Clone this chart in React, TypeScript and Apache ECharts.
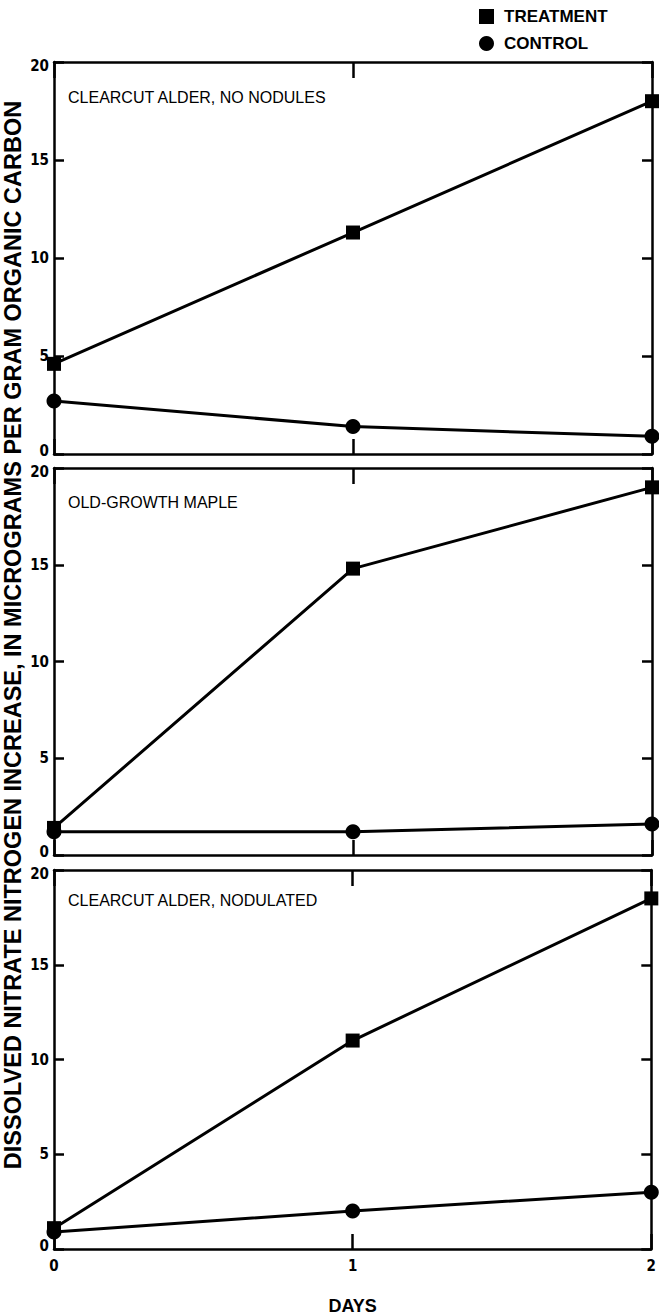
import React, { useEffect, useRef } from "react";
import * as echarts from "echarts";

const days = [0, 1, 2];
const xTicks = ["0", "1", "2"];
const panelTitles = ["CLEARCUT ALDER, NO NODULES", "OLD-GROWTH MAPLE", "CLEARCUT ALDER, NODULATED"];
const treatmentNoNodules = [4.6, 11.3, 18.0];
const controlNoNodules = [2.7, 1.4, 0.9];
const treatmentMaple = [1.4, 14.8, 19.0];
const controlMaple = [1.2, 1.2, 1.6];
const treatmentNodulated = [1.1, 11.0, 18.5];
const controlNodulated = [0.9, 2.0, 3.0];
const treatmentSets = [treatmentNoNodules, treatmentMaple, treatmentNodulated];
const controlSets = [controlNoNodules, controlMaple, controlNodulated];

const grids = [
  { top: 62, height: 392, titleOffset: 35 },
  { top: 468, height: 387, titleOffset: 34 },
  { top: 870, height: 387, titleOffset: 30 },
];

const narrow = "'DejaVu Sans Condensed', sans-serif";
const sans = "'Liberation Sans', Arial, sans-serif";
const labelFont = { fontFamily: narrow, fontWeight: "bold" as const, fontSize: 15, color: "#000" };

export default function App() {
  const ref = useRef<HTMLDivElement>(null);
  useEffect(() => {
    const chart = echarts.init(ref.current!, null, { renderer: "svg" });
    const line = { lineStyle: { color: "#000", width: 2.5 } };
    const xAxis: any[] = [];
    const yAxis: any[] = [];
    const series: any[] = [];
    grids.forEach((g, i) => {
      xAxis.push({
        type: "value", gridIndex: i, min: 0, max: 2, interval: 1, position: "bottom",
        axisLine: { show: true, onZero: false, ...line },
        axisTick: { show: true, inside: true, length: 15, ...line },
        axisLabel: { show: i === 2, ...labelFont, margin: 9, formatter: (v: number) => xTicks[v] },
        splitLine: { show: false },
        name: i === 2 ? "DAYS" : "", nameLocation: "middle", nameGap: 48,
        nameTextStyle: { fontFamily: sans, fontWeight: "bold", fontSize: 18, color: "#000" },
      });
      xAxis.push({
        type: "value", gridIndex: i, min: 0, max: 2, interval: 1, position: "top",
        axisLine: { show: true, onZero: false, ...line },
        axisTick: { show: true, inside: true, length: 16, ...line },
        axisLabel: { show: false },
        splitLine: { show: false },
      });
      yAxis.push({
        type: "value", gridIndex: i, min: 0, max: 20, interval: 5, position: "left",
        axisLine: { show: true, onZero: false, ...line },
        axisTick: { show: true, inside: true, length: 10, ...line },
        axisLabel: {
          ...labelFont, margin: 5,
          formatter: (v: number) => (v === 0 ? `{lo|0}` : v === 20 ? `{hi|20}` : String(v)),
          rich: {
            lo: { ...labelFont, padding: [0, 0, 7, 0] },
            hi: { ...labelFont, padding: [7, 0, 0, 0] },
          },
        },
        splitLine: { show: false },
      });
      yAxis.push({
        type: "value", gridIndex: i, min: 0, max: 20, interval: 5, position: "right",
        axisLine: { show: true, onZero: false, ...line },
        axisTick: { show: true, inside: true, length: 10, ...line },
        axisLabel: { show: false },
        splitLine: { show: false },
      });
      series.push({
        type: "line", name: "TREATMENT", xAxisIndex: i * 2, yAxisIndex: i * 2,
        data: days.map((d, k) => [d, treatmentSets[i][k]]),
        symbol: "rect", symbolSize: 14, clip: false,
        lineStyle: { color: "#000", width: 3 }, itemStyle: { color: "#000" },
      });
      series.push({
        type: "line", name: "CONTROL", xAxisIndex: i * 2, yAxisIndex: i * 2,
        data: days.map((d, k) => [d, controlSets[i][k]]),
        symbol: "circle", symbolSize: 15, clip: false,
        lineStyle: { color: "#000", width: 3 }, itemStyle: { color: "#000" },
      });
    });
    chart.setOption({
      animation: false,
      backgroundColor: "#fff",
      grid: grids.map((g) => ({ left: 54, width: 598, top: g.top, height: g.height })),
      xAxis,
      yAxis,
      series,
      legend: {
        orient: "vertical", left: 474, top: 3, itemGap: 10, itemWidth: 15, itemHeight: 15,
        data: [
          { name: "TREATMENT", icon: "rect" },
          { name: "CONTROL", icon: "circle" },
        ],
        textStyle: { fontFamily: sans, fontWeight: "bold", fontSize: 17, color: "#000", lineHeight: 15, padding: [0, 0, 0, 5] },
        selectedMode: false,
      },
      graphic: [
        ...grids.map((g, i) => ({
          type: "text", x: 68, y: g.top + g.titleOffset,
          style: { text: panelTitles[i], font: `16px ${sans}`, fill: "#000", verticalAlign: "middle" },
        })),
        {
          type: "text", x: 13, y: 635, rotation: Math.PI / 2,
          style: {
            text: "DISSOLVED NITRATE NITROGEN INCREASE, IN MICROGRAMS PER GRAM ORGANIC CARBON",
            font: `bold 23.5px ${sans}`, fill: "#000", align: "center", verticalAlign: "middle",
          },
        },
      ],
    });
    return () => chart.dispose();
  }, []);
  return <div ref={ref} style={{ position: "fixed", left: 0, top: 0, width: 659, height: 1316 }} />;
}
